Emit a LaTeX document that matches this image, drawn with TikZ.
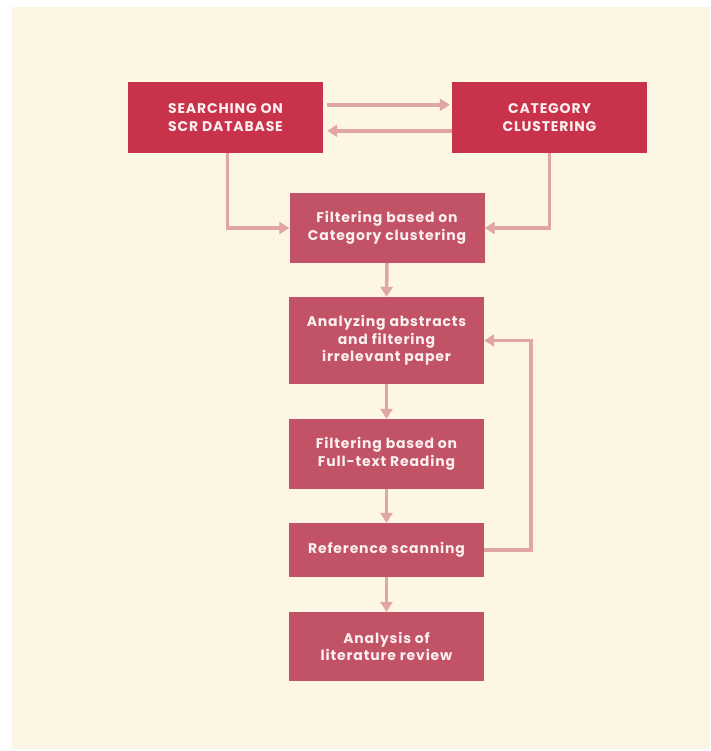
\documentclass[tikz,border=0pt]{standalone}
\usepackage{fontspec}
\setmainfont{Poppins}[LetterSpace=6]
\usetikzlibrary{arrows.meta,calc}
\definecolor{cream}{HTML}{FEF6E4}
\definecolor{crimson}{HTML}{C8334B}
\definecolor{rosebox}{HTML}{C25265}
\definecolor{arrowpink}{HTML}{DFA6A3}
\definecolor{txt}{HTML}{FBEFEF}
\begin{document}
\begin{tikzpicture}[x=1pt,y=-1pt,
  topbox/.style={fill=crimson,draw=none,minimum width=195pt,minimum height=71pt,inner sep=0pt,
    text=txt,align=center,font=\fontsize{14}{18}\selectfont\bfseries},
  lowbox/.style={fill=rosebox,draw=none,minimum width=195pt,inner sep=0pt,
    text=txt,align=center,font=\fontsize{14}{17.5}\selectfont\bfseries},
  arr/.style={draw=arrowpink,line width=3.5pt,-{Triangle[length=10pt,width=12pt]}}]
\fill[white] (0,0) rectangle (710,751);
\fill[cream] (12,7) rectangle (710,749);
\useasboundingbox (0,0) rectangle (710,751);
\node[topbox] (b1) at (225.5,117.5) {SEARCHING ON\\SCR DATABASE};
\node[topbox] (b2) at (549.5,117.5) {CATEGORY\\CLUSTERING};
\node[lowbox,minimum height=70pt] (b3) at (387,228) {Filtering based on\\Category clustering};
\node[lowbox,minimum height=87pt] (b4) at (386.5,340.5) {Analyzing abstracts\\and filtering\\irrelevant paper};
\node[lowbox,minimum height=70pt] (b5) at (386.5,454) {Filtering based on\\Full-text Reading};
\node[lowbox,minimum height=54pt] (b6) at (386.5,550) {Reference scanning};
\node[lowbox,minimum height=69pt] (b7) at (386.5,646.5) {Analysis of\\literature review};
\coordinate (fb) at (531,341);
\draw[arr] ($(b1.north east)+(4,23)$) -- ($(b2.north west)+(-2,23)$);
\draw[arr] ($(b2.north west)+(0,49)$) -- ($(b1.north east)+(4,49)$);
\draw[arr] ([xshift=2pt]b1.south) |- (b3.west);
\draw[arr] (b2.south) |- (b3.east);
\draw[arr] (b3.south) -- (b4.north);
\draw[arr] (b4.south) -- (b5.north);
\draw[arr] (b5.south) -- (b6.north);
\draw[arr] (b6.south) -- (b7.north);
\draw[arr] (b6.east) -- (b6.east -| fb) |- (b4.east);
\end{tikzpicture}
\end{document}
